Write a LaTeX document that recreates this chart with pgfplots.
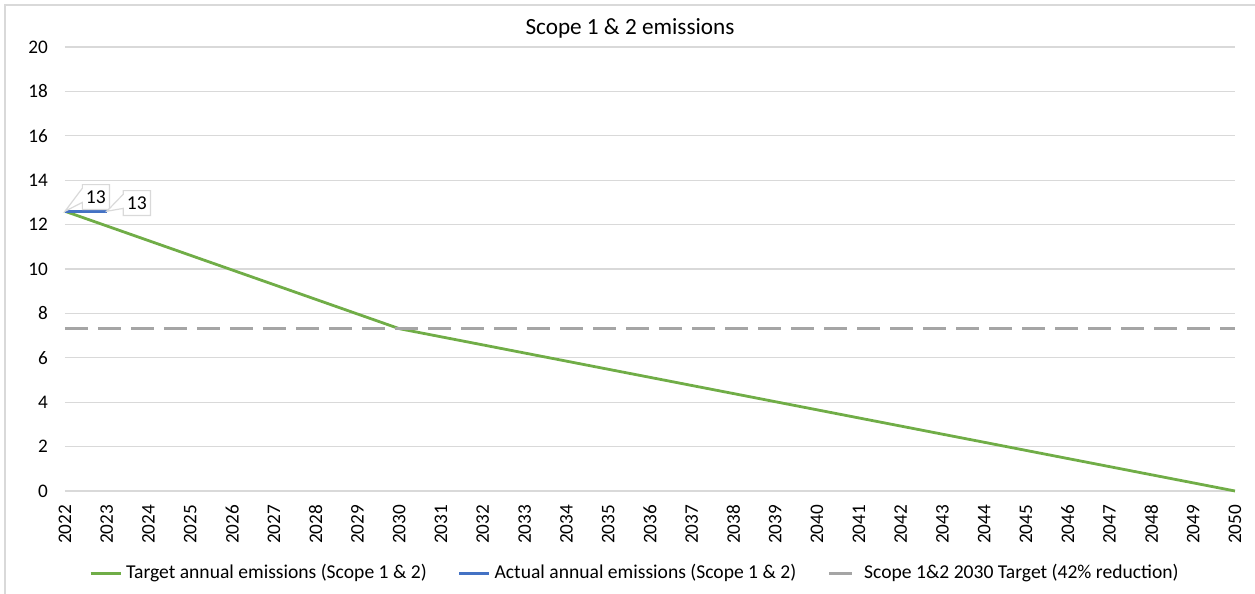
\documentclass[border=0pt]{standalone}
\usepackage{pgfplots}
\pgfplotsset{compat=1.18}
\usepackage{fontspec}
\setmainfont{Carlito}
\usetikzlibrary{shapes.callouts}
\definecolor{xgreen}{HTML}{70AD47}
\definecolor{xblue}{HTML}{4472C4}
\definecolor{xgray}{HTML}{A5A5A5}
\definecolor{xgrid}{HTML}{D9D9D9}
\begin{document}
\begin{tikzpicture}
\useasboundingbox (-32.5pt,-51.5pt) rectangle (595pt,245.5pt);
\draw[xgrid, line width=0.6pt] (-30pt,-60pt) -- (-30pt,243pt) -- (600pt,243pt);
\begin{axis}[
  at={(0,0)}, anchor=south west,
  scale only axis, width=585pt, height=222pt,
  xmin=2022, xmax=2050, ymin=0, ymax=20,
  xtick={2022,...,2050}, ytick={0,2,...,20},
  xticklabel style={rotate=90, anchor=east, font=\fontsize{9.6}{10}\selectfont, xshift=-3.5pt},
  yticklabel style={font=\fontsize{9.6}{10}\selectfont, xshift=-5pt},
  /pgf/number format/assume math mode=true,
  /pgf/number format/1000 sep={},
  major tick length=0pt,
  axis line style={draw=none},
  ymajorgrids, grid style={xgrid, line width=0.6pt},
  legend columns=3,
  legend style={draw=none, fill=none, at={(0.488,-0.185)}, anchor=center,
    font=\fontsize{9.8}{10}\selectfont},
  legend image code/.code={\draw[#1, line width=1.4pt] (0pt,0pt) -- (15pt,0pt);},
  /tikz/column 2/.style={column sep=13.5pt},
  /tikz/column 4/.style={column sep=13.5pt},
  clip=false,
]
\addplot[xgreen, line width=1.4pt] coordinates {
(2022,12.6) (2023,11.939) (2024,11.278) (2025,10.617) (2026,9.956) (2027,9.295)
(2028,8.634) (2029,7.973) (2030,7.312) (2031,6.946) (2032,6.581) (2033,6.215)
(2034,5.850) (2035,5.484) (2036,5.119) (2037,4.753) (2038,4.388) (2039,4.022)
(2040,3.656) (2041,3.290) (2042,2.925) (2043,2.559) (2044,2.194) (2045,1.828)
(2046,1.462) (2047,1.097) (2048,0.731) (2049,0.366) (2050,0)
};
\addlegendentry{Target annual emissions (Scope 1 \& 2)}
\addplot[xblue, line width=1.4pt] coordinates {(2022,12.6) (2023,12.6)};
\addlegendentry{Actual annual emissions (Scope 1 \& 2)}
\addplot[xgray, line width=1.4pt, dash pattern=on 11.5pt off 5pt] coordinates {(2022,7.312) (2050,7.312)};
\addlegendentry{Scope 1\&2 2030 Target (42\% reduction)}
\node[rectangle callout, draw=xgrid, fill=white, line width=0.6pt, inner xsep=1.8pt, inner ysep=3pt,
  font=\fontsize{9.8}{10}\selectfont,
  callout absolute pointer={(axis cs:2022,12.6)}] at (axis cs:2022.74,13.24) {13};
\node[rectangle callout, draw=xgrid, fill=white, line width=0.6pt, inner xsep=1.8pt, inner ysep=3pt,
  font=\fontsize{9.8}{10}\selectfont,
  callout absolute pointer={(axis cs:2023,12.6)}] at (axis cs:2023.72,12.97) {13};
\end{axis}
\node[font=\fontsize{11.6}{13}\selectfont] at (282.5pt,231.5pt) {Scope 1 \& 2 emissions};
\end{tikzpicture}
\end{document}
